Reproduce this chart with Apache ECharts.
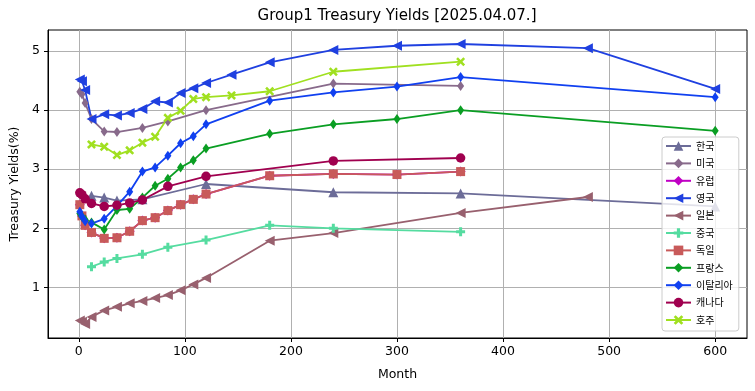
<!DOCTYPE html>
<html><head><meta charset="utf-8">
<script src="https://cdn.jsdelivr.net/npm/echarts@6/dist/echarts.min.js"></script>
<style>html,body{margin:0;padding:0;background:#fff}#c{width:755px;height:391px}</style>
</head><body><div id="c"></div>
<script>
// ---- data (months, yields %) ----
const titleText = 'Group1 Treasury Yields [2025.04.07.]';
const xTicks = [0, 100, 200, 300, 400, 500, 600];
const yTicks = [1, 2, 3, 4, 5];

const krName = '한국';
const krMonths = [12, 24, 36, 60, 120, 240, 360, 600];
const krVals   = [2.55, 2.52, 2.47, 2.49, 2.75, 2.61, 2.59, 2.37];

const usName = '미국';
const usMonths = [1, 3, 6, 12, 24, 36, 60, 84, 120, 240, 360];
const usVals   = [4.31, 4.27, 4.12, 3.85, 3.64, 3.63, 3.70, 3.81, 4.00, 4.45, 4.41];

const euName = '유럽';
const euMonths = [1, 3, 6, 12, 24, 36, 48, 60, 72, 84, 96, 108, 120, 180, 240, 300, 360];
const euVals   = [2.40, 2.21, 2.05, 1.93, 1.83, 1.84, 1.95, 2.13, 2.18, 2.30, 2.40, 2.49, 2.58, 2.89, 2.92, 2.91, 2.96];

const ukName = '영국';
const ukMonths = [1, 3, 6, 12, 24, 36, 48, 60, 72, 84, 96, 108, 120, 144, 180, 240, 300, 360, 480, 600];
const ukVals   = [4.52, 4.49, 4.34, 3.85, 3.93, 3.91, 3.95, 4.02, 4.15, 4.13, 4.29, 4.37, 4.46, 4.60, 4.81, 5.02, 5.09, 5.12, 5.05, 4.36];

const jpName = '일본';
const jpMonths = [1, 3, 6, 12, 24, 36, 48, 60, 72, 84, 96, 108, 120, 180, 240, 360, 480];
const jpVals   = [0.44, 0.42, 0.38, 0.50, 0.61, 0.67, 0.73, 0.77, 0.82, 0.87, 0.95, 1.05, 1.16, 1.79, 1.92, 2.26, 2.53];

const cnName = '중국';
const cnMonths = [12, 24, 36, 60, 84, 120, 180, 240, 360];
const cnVals   = [1.35, 1.43, 1.49, 1.56, 1.68, 1.80, 2.05, 2.00, 1.94];

const deName = '독일';
const deMonths = [1, 3, 6, 12, 24, 36, 48, 60, 72, 84, 96, 108, 120, 180, 240, 300, 360];
const deVals   = [2.40, 2.21, 2.05, 1.93, 1.83, 1.84, 1.95, 2.13, 2.18, 2.30, 2.40, 2.49, 2.58, 2.89, 2.92, 2.91, 2.96];

const frName = '프랑스';
const frMonths = [1, 3, 6, 12, 24, 36, 48, 60, 72, 84, 96, 108, 120, 180, 240, 300, 360, 600];
const frVals   = [2.25, 2.20, 2.15, 2.10, 1.98, 2.31, 2.33, 2.52, 2.72, 2.84, 3.03, 3.15, 3.35, 3.60, 3.76, 3.85, 4.00, 3.65];

const itName = '이탈리아';
const itMonths = [1, 3, 6, 12, 24, 36, 48, 60, 72, 84, 96, 108, 120, 180, 240, 300, 360, 600];
const itVals   = [2.28, 2.20, 2.12, 2.08, 2.16, 2.38, 2.62, 2.96, 3.03, 3.23, 3.44, 3.56, 3.76, 4.16, 4.30, 4.40, 4.56, 4.22];

const caName = '캐나다';
const caMonths = [1, 3, 6, 12, 24, 36, 48, 60, 84, 120, 240, 360];
const caVals   = [2.60, 2.57, 2.50, 2.42, 2.37, 2.39, 2.43, 2.48, 2.71, 2.88, 3.14, 3.19];

const auName = '호주';
const auMonths = [12, 24, 36, 48, 60, 72, 84, 96, 108, 120, 144, 180, 240, 360];
const auVals   = [3.42, 3.38, 3.24, 3.32, 3.45, 3.55, 3.87, 3.99, 4.19, 4.22, 4.25, 4.32, 4.65, 4.82];

// ---- styling ----
const PLUS = 'path://M1,0L2,0L2,1L3,1L3,2L2,2L2,3L1,3L1,2L0,2L0,1L1,1Z';
const XMARK = 'path://M0,2L2,0L5,3L8,0L10,2L7,5L10,8L8,10L5,7L2,10L0,8L3,5Z';

function mk(name, months, vals, color, symbol, size, rotate) {
  return {
    name: name, type: 'line',
    data: months.map((m, i) => [m, vals[i]]),
    symbol: symbol, symbolSize: size, symbolRotate: rotate || 0,
    showSymbol: true, showAllSymbol: true,
    lineStyle: { color: color, width: 1.8 },
    itemStyle: { color: color, borderWidth: 0 },
    emphasis: { disabled: true },
    animation: false
  };
}

const series = [
  mk(krName, krMonths, krVals, '#6c6c98', 'triangle', 10),
  mk(usName, usMonths, usVals, '#886a8b', 'diamond', [7, 10]),
  mk(euName, euMonths, euVals, '#c000c4', 'diamond', [10, 10]),
  mk(ukName, ukMonths, ukVals, '#1f40e0', 'triangle', 10, 90),
  mk(jpName, jpMonths, jpVals, '#98606e', 'triangle', 10, 90),
  mk(cnName, cnMonths, cnVals, '#55dca0', PLUS, 9),
  mk(deName, deMonths, deVals, '#c85a5a', 'rect', 9),
  mk(frName, frMonths, frVals, '#0a9e23', 'diamond', [7, 10]),
  mk(itName, itMonths, itVals, '#1040f0', 'diamond', [7, 10]),
  mk(caName, caMonths, caVals, '#a0004f', 'circle', 9.5),
  mk(auName, auMonths, auVals, '#a0e020', XMARK, 9)
];

const FONT = 'DejaVu Sans';
const cv = document.createElement('canvas').getContext('2d');
cv.font = '15px "' + FONT + '"';
const titleW = cv.measureText(titleText).width;

const chart = echarts.init(document.getElementById('c'), null, { renderer: 'canvas' });
chart.setOption({
  animation: false,
  backgroundColor: '#ffffff',
  title: {
    text: titleText, left: 397 - titleW / 2, top: 9, padding: 0,
    textStyle: { fontFamily: FONT, fontSize: 15, fontWeight: 'normal', color: '#000' }
  },
  grid: { left: 48, right: 8, top: 30, bottom: 53, show: true, borderColor: '#000', borderWidth: 1, containLabel: false },
  xAxis: {
    type: 'value', min: -29, max: 630, minInterval: 100, maxInterval: 100,
    name: 'Month', nameLocation: 'middle', nameGap: 30,
    nameTextStyle: { fontFamily: FONT, fontSize: 12.5, color: '#000' },
    axisLine: { show: true, onZero: false, lineStyle: { color: '#000', width: 1 } },
    axisTick: { show: true, length: 4, lineStyle: { color: '#000' }, customValues: xTicks },
    axisLabel: { fontFamily: FONT, fontSize: 12.5, color: '#000', margin: 7, customValues: xTicks },
    splitLine: { show: true, lineStyle: { color: '#b0b0b0', width: 1 } }
  },
  yAxis: {
    type: 'value', min: 0.143, max: 5.357, minInterval: 1, maxInterval: 1,
    name: 'Treasury Yields(%)', nameLocation: 'middle', nameGap: 25, nameRotate: 90,
    nameTextStyle: { fontFamily: FONT, fontSize: 12.5, color: '#000' },
    axisLine: { show: true, onZero: false, lineStyle: { color: '#000', width: 1 } },
    axisTick: { show: true, length: 4, lineStyle: { color: '#000' }, customValues: yTicks },
    axisLabel: { fontFamily: FONT, fontSize: 12.5, color: '#000', margin: 8, customValues: yTicks },
    splitLine: { show: true, lineStyle: { color: '#b0b0b0', width: 1 } }
  },
  legend: {
    orient: 'vertical', left: 662, top: 137,
    padding: [3, 6, 5, 3],
    itemWidth: 25, itemHeight: 12, itemGap: 5.4,
    backgroundColor: 'rgba(255,255,255,0.8)', borderColor: '#cccccc', borderWidth: 1, borderRadius: 3,
    textStyle: { fontFamily: 'Noto Sans CJK KR', fontSize: 10, color: '#000', lineHeight: 12 },
    data: series.map(s => s.name)
  },
  series: series
});
</script>
</body></html>
